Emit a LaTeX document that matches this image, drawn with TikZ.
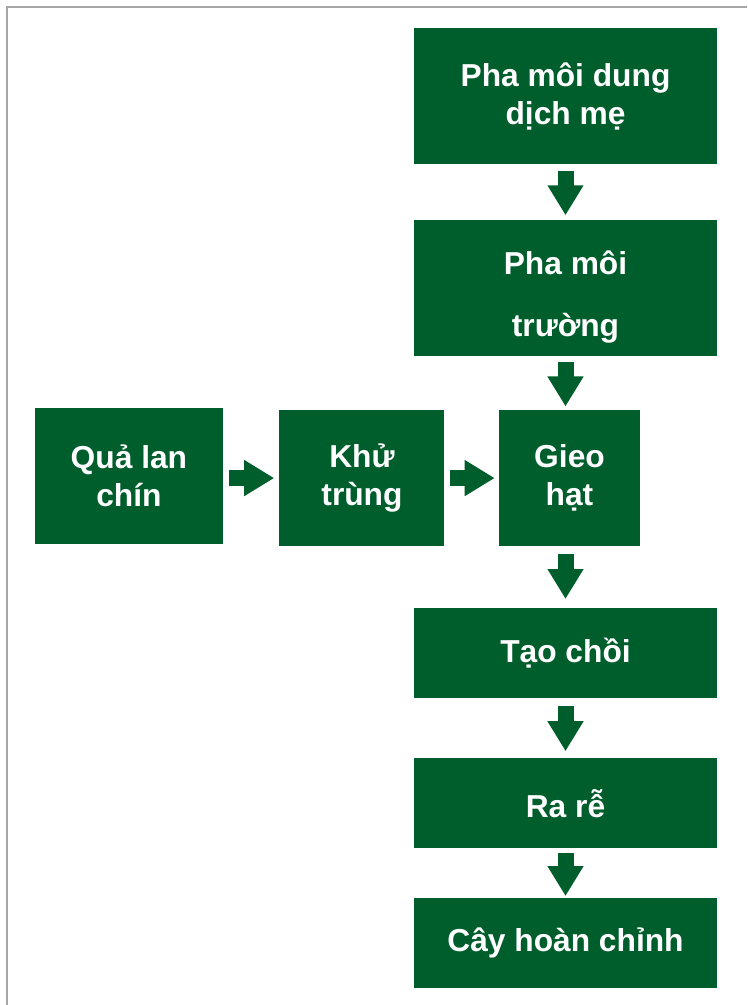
\documentclass[tikz,border=0pt]{standalone}
\usepackage{fontspec}
\setmainfont{Liberation Sans}
\usetikzlibrary{arrows.meta, positioning}
\definecolor{luc}{HTML}{005E2C}
\definecolor{vien}{HTML}{A6A6A6}

\begin{document}
\begin{tikzpicture}[x=0.75pt, y=-0.75pt]
        \tikzstyle{buoc} = [rectangle, fill=luc, text=white, align=center, inner sep=0pt, minimum width=227.25pt, minimum height=102pt, font=\fontsize{23.8pt}{28.5pt}\selectfont\bfseries]
        \tikzstyle{thap} = [minimum height=67.5pt]
        \tikzstyle{muiten} = [draw=luc, line width=12pt, -{Triangle[width=25.5pt, length=22.5pt]}]

        \useasboundingbox (0,0) rectangle (747,1005);
        \draw [vien, line width=1.5pt] (7,1005) -- (7,7) -- (747,7);

        \node (dungdich) [buoc] at (565.5,96) {Pha môi dung\\dịch mẹ};
        \node (moitruong) [buoc, below=41.25pt of dungdich] {\rule{0pt}{32pt}Pha môi\\[18pt]trường};
        \node (gieohat) [buoc, minimum width=105.75pt, below=40.5pt of moitruong, xshift=3pt] {Gieo\\hạt};
        \node (khutrung) [buoc, minimum width=123.75pt, left=40.5pt of gieohat] {Khử\\trùng};
        \node (qualan) [buoc, minimum width=141pt, left=42pt of khutrung, yshift=1.5pt] {Quả lan\\chín};
        \node (taochoi) [buoc, thap, below=46pt of gieohat, xshift=-3pt] {Tạo chồi};
        \node (rare) [buoc, thap, below=45pt of taochoi] {Ra rễ};
        \node (hoanchinh) [buoc, thap, below=37pt of rare] {Cây hoàn chỉnh};

        \draw [muiten, shorten <=5pt, shorten >=3pt] (dungdich) -- (moitruong);
        \draw [muiten, shorten <=5pt, shorten >=2.5pt] (moitruong.south) -- (moitruong.south |- gieohat.north);
        \draw [muiten, shorten <=6pt, shorten >=6.5pt] (taochoi.north |- gieohat.south) -- (taochoi.north);
        \draw [muiten, shorten <=6pt, shorten >=5.25pt] (taochoi) -- (rare);
        \draw [muiten, shorten <=3pt, shorten >=1.5pt] (rare) -- (hoanchinh);
        \draw [muiten, shorten <=4.5pt, shorten >=3.75pt] (qualan.east |- khutrung.east) -- (khutrung.east -| khutrung.west);
        \draw [muiten, shorten <=3.75pt, shorten >=3pt] (khutrung.east) -- (gieohat.west);
    \end{tikzpicture}
\end{document}
